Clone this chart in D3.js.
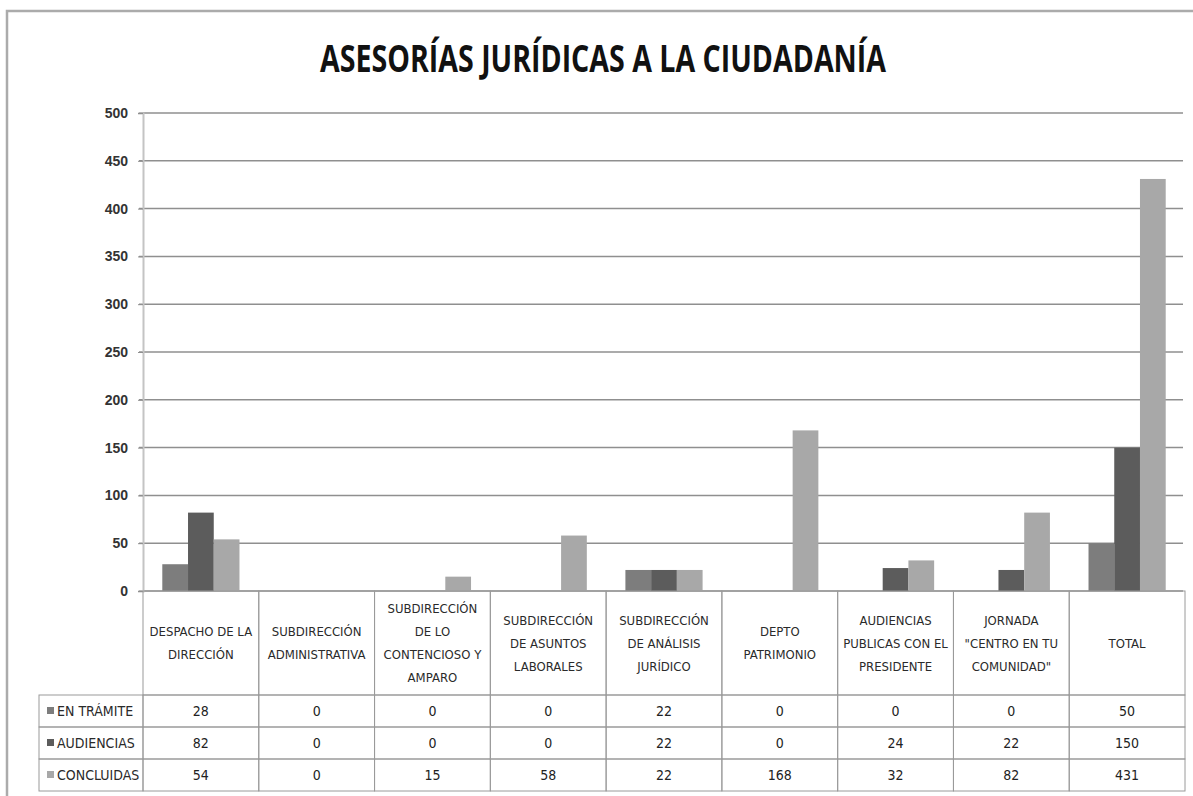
<!DOCTYPE html>
<html>

<head>
  <meta charset="utf-8">
  <style>
    body {
      margin: 0;
      background-color: #fff;
      font-family: "DejaVu Sans Condensed", "DejaVu Sans", sans-serif;
      font-stretch: condensed;
    }

    .grid line {
      stroke: #8f8f8f;
      stroke-width: 1.5px;
    }

    .yaxis text {
      font-size: 14px;
      font-weight: bold;
      fill: #333;
    }

    .cell {
      stroke: #9a9a9a;
      stroke-width: 1px;
      fill: none;
    }

    .head {
      font-size: 13px;
      fill: #2a2a2a;
      text-anchor: middle;
    }

    .val {
      font-size: 14px;
      fill: #222;
      text-anchor: middle;
    }
  </style>
</head>

<body>
  <div id="chart"></div>

  <script src="https://cdn.jsdelivr.net/npm/d3@7"></script>
  <script>
    // data
    var title = 'ASESORÍAS JURÍDICAS A LA CIUDADANÍA';

    var categories = [
      ['DESPACHO DE LA', 'DIRECCIÓN'],
      ['SUBDIRECCIÓN', 'ADMINISTRATIVA'],
      ['SUBDIRECCIÓN', 'DE LO', 'CONTENCIOSO Y', 'AMPARO'],
      ['SUBDIRECCIÓN', 'DE ASUNTOS', 'LABORALES'],
      ['SUBDIRECCIÓN', 'DE ANÁLISIS', 'JURÍDICO'],
      ['DEPTO', 'PATRIMONIO'],
      ['AUDIENCIAS', 'PUBLICAS CON EL', 'PRESIDENTE'],
      ['JORNADA', '"CENTRO EN TU', 'COMUNIDAD"'],
      ['TOTAL']
    ];

    var seriesNames = ['EN TRÁMITE', 'AUDIENCIAS', 'CONCLUIDAS'];

    var enTramite = [28, 0, 0, 0, 22, 0, 0, 0, 50];
    var audiencias = [82, 0, 0, 0, 22, 0, 24, 22, 150];
    var concluidas = [54, 0, 15, 58, 22, 168, 32, 82, 431];

    var yTicks = [0, 50, 100, 150, 200, 250, 300, 350, 400, 450, 500];

    var seriesColors = ['#7d7d7d', '#5c5c5c', '#a8a8a8'];

    var values = [enTramite, audiencias, concluidas];

    var width = 1193,
      height = 796;

    var plot = {
      left: 143,
      right: 1185,
      top: 113,
      bottom: 591
    };

    var table = {
      left: 39,
      headBottom: 695,
      rowH: 32
    };

    var svg = d3.select('#chart').append('svg')
      .attr('width', width)
      .attr('height', height);

    // outer frame
    svg.append('rect')
      .attr('x', 7)
      .attr('y', 11)
      .attr('width', 1250)
      .attr('height', 850)
      .attr('fill', 'none')
      .attr('stroke', '#ababab')
      .attr('stroke-width', 2.5);

    svg.append('text')
      .attr('x', 603)
      .attr('y', 72)
      .attr('text-anchor', 'middle')
      .attr('textLength', 566)
      .attr('lengthAdjust', 'spacingAndGlyphs')
      .style('font-family', '"Open Sans", sans-serif')
      .style('font-stretch', 'normal')
      .style('font-weight', 'bold')
      .style('font-size', '38px')
      .style('fill', '#111')
      .text(title);

    var x = d3.scaleBand()
      .domain(d3.range(categories.length))
      .range([plot.left, plot.right]);

    // excel style 150% gap width
    var xs = d3.scaleBand()
      .domain(d3.range(seriesNames.length))
      .range([0, x.bandwidth()])
      .paddingInner(0)
      .paddingOuter(0.75);

    var y = d3.scaleLinear()
      .domain([0, 500])
      .range([plot.bottom, plot.top]);

    // gridlines
    svg.append('g')
      .attr('class', 'grid')
      .selectAll('line')
      .data(yTicks)
      .enter().append('line')
      .attr('x1', plot.left - 4)
      .attr('x2', plot.right - 2)
      .attr('y1', function(d) { return y(d); })
      .attr('y2', function(d) { return y(d); });

    // y axis
    var yAxis = svg.append('g')
      .attr('class', 'yaxis')
      .attr('transform', 'translate(' + plot.left + ',0)')
      .call(d3.axisLeft(y).tickValues(yTicks).tickSize(5).tickPadding(10));

    yAxis.select('.domain')
      .attr('stroke', '#c4c4c4')
      .attr('stroke-width', 2);
    yAxis.selectAll('.tick line').attr('stroke', '#8f8f8f');
    yAxis.selectAll('.tick text').style('font-family', null);

    // bars
    var groups = svg.append('g')
      .selectAll('g')
      .data(values)
      .enter().append('g')
      .attr('fill', function(d, i) { return seriesColors[i]; });

    groups.each(function(series, si) {
      d3.select(this).selectAll('rect')
        .data(series)
        .enter().append('rect')
        .attr('x', function(d, ci) { return x(ci) + xs(si); })
        .attr('width', xs.bandwidth())
        .attr('y', function(d) { return y(d); })
        .attr('height', function(d) { return y(0) - y(d); });
    });

    // data table
    var tbl = svg.append('g');

    // header cells
    tbl.selectAll('.hcell')
      .data(categories)
      .enter().append('rect')
      .attr('class', 'cell')
      .attr('x', function(d, i) { return x(i); })
      .attr('y', plot.bottom)
      .attr('width', x.bandwidth())
      .attr('height', table.headBottom - plot.bottom);

    tbl.selectAll('.head')
      .data(categories)
      .enter().append('text')
      .attr('class', 'head')
      .each(function(lines, i) {
        var t = d3.select(this);
        var cy = (plot.bottom + table.headBottom) / 2;
        var lh = 23;
        lines.forEach(function(l, k) {
          t.append('tspan')
            .attr('x', x(i) + x.bandwidth() / 2)
            .attr('y', cy + (k - (lines.length - 1) / 2) * lh)
            .attr('dy', '0.35em')
            .text(l);
        });
      });

    // data rows
    var rows = tbl.selectAll('.row')
      .data(values)
      .enter().append('g')
      .attr('transform', function(d, i) {
        return 'translate(0,' + (table.headBottom + i * table.rowH) + ')';
      });

    rows.append('rect')
      .attr('class', 'cell')
      .attr('x', table.left)
      .attr('y', 0)
      .attr('width', plot.left - table.left)
      .attr('height', table.rowH);

    rows.selectAll('.vcell')
      .data(function(d) { return d; })
      .enter().append('rect')
      .attr('class', 'cell')
      .attr('x', function(d, i) { return x(i); })
      .attr('y', 0)
      .attr('width', x.bandwidth())
      .attr('height', table.rowH);

    rows.selectAll('.val')
      .data(function(d) { return d; })
      .enter().append('text')
      .attr('class', 'val')
      .attr('x', function(d, i) { return x(i) + x.bandwidth() / 2; })
      .attr('y', table.rowH / 2)
      .attr('dy', '0.35em')
      .text(function(d) { return d; });

    // legend keys in the row headers
    rows.append('rect')
      .attr('x', 47)
      .attr('y', table.rowH / 2 - 4)
      .attr('width', 7)
      .attr('height', 7)
      .attr('fill', function(d, i) { return seriesColors[i]; });

    rows.append('text')
      .attr('x', 57)
      .attr('y', table.rowH / 2)
      .attr('dy', '0.35em')
      .style('font-size', '14px')
      .style('fill', '#2a2a2a')
      .text(function(d, i) { return seriesNames[i]; });
  </script>

</body>

</html>
